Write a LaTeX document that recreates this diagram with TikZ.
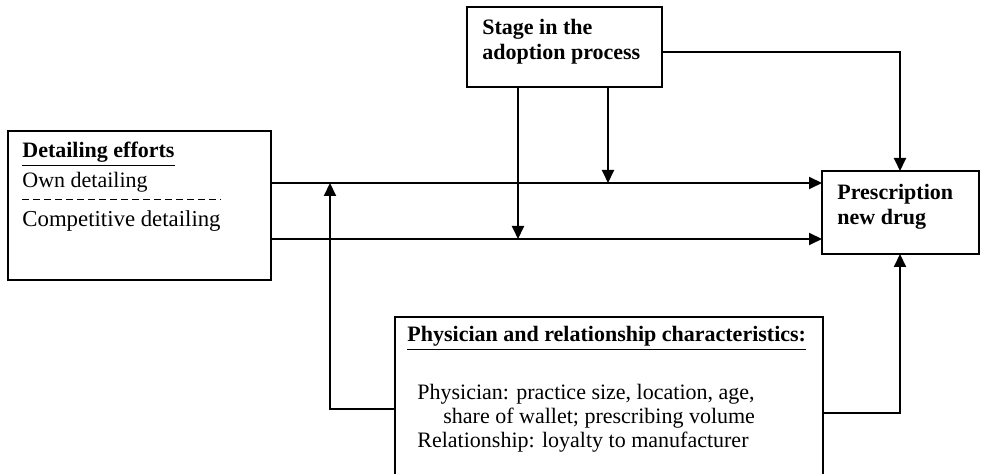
\documentclass[tikz,border=0pt]{standalone}
\usepackage{fontspec}
\setmainfont{Liberation Serif}
\usetikzlibrary{arrows.meta, calc}
\tikzset{
	>={Triangle[length=6.5pt, width=6pt]},
	box/.style={draw, line width=0.6pt, inner sep=0pt, outer sep=0pt},
	txt/.style={anchor=base west, inner sep=0pt, font=\fontsize{11}{13}\selectfont},
	flow/.style={->, line width=1pt},
	link/.style={line width=1pt},
	divider/.style={line width=0.5pt, dash pattern=on 3.3pt off 2.2pt},
}

\begin{document}
\begin{tikzpicture}[x=0.5pt, y=-0.5pt]
			\useasboundingbox (0,0) rectangle (981,474);
			% boxes
			\node[box, minimum width=131.5pt, minimum height=74.5pt] (DETAIL) at (139.5,205.5) {};
			\node[box, minimum width=97.5pt, minimum height=40pt] (STAGE) at (564.5,47) {};
			\node[box, minimum width=78.5pt, minimum height=41.5pt] (RX) at (900.5,212.5) {};
			\node[box, minimum width=214pt, minimum height=86.5pt] (PHYS) at (609,403.5) {};
			
			% texts
			\node[txt] (DHEAD) at (22,158) {\textbf{\underline{Detailing efforts}}};
			\node[txt] (OWN) at (22,188) {Own detailing};
			\node[txt] (COMP) at (22,227) {\fontsize{11.4}{13}\selectfont Competitive detailing};
			\draw[divider] (22,200) -- (221,200);
			\node[txt] (STAGE1) at (482,35) {\textbf{Stage in the}};
			\node[txt] (STAGE2) at (482,60) {\textbf{adoption process}};
			\node[txt] (RX1) at (837,200) {\textbf{Prescription}};
			\node[txt] (RX2) at (837,225) {\textbf{new drug}};
			\node[txt] (PHEAD) at (407,342) {\textbf{\underline{Physician and relationship characteristics:}}};
			\node[txt] (PHYS1) at (417,400) {Physician: practice size, location, age,};
			\node[txt] (PHYS2) at (443,424) {share of wallet; prescribing volume};
			\node[txt] (PHYS3) at (417,448) {Relationship: loyalty to manufacturer};
			
			% levels
			\coordinate (ownY) at (0,183);
			\coordinate (compY) at (0,239);
			\coordinate (leftX) at (330,0);
			\coordinate (stageA) at (518,0);
			\coordinate (stageB) at (608,0);
			\coordinate (rightX) at (900,0);
			
			% connectors
			\draw[flow] (DETAIL.east |- ownY) -- (RX.west |- ownY);
			\draw[flow] (DETAIL.east |- compY) -- (RX.west |- compY);
			\draw[flow] (STAGE.south -| stageB) -- (stageB |- ownY);
			\draw[flow] (STAGE.south -| stageA) -- (stageA |- compY);
			\draw[flow] (STAGE.east |- 0,52) -| (RX.north -| rightX);
			\draw[flow] (PHYS.west |- 0,409) -| (leftX |- ownY);
			\draw[flow] (PHYS.east |- 0,413) -| (RX.south -| rightX);
		\end{tikzpicture}
\end{document}
